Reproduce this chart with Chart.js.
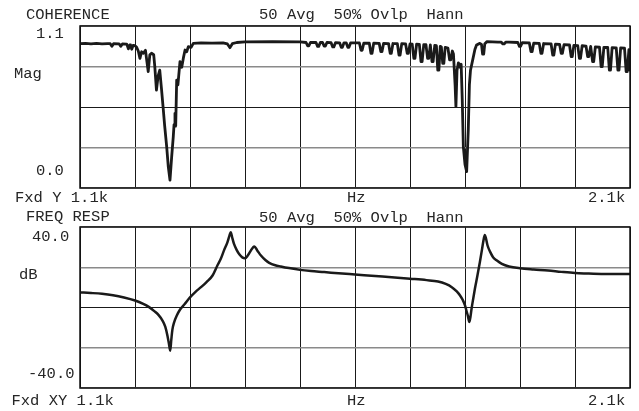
<!DOCTYPE html>
<html><head><meta charset="utf-8">
<script src="https://cdn.jsdelivr.net/npm/chart.js@4.4.1/dist/chart.umd.min.js"></script>
<style>
html,body{margin:0;padding:0;background:#fff;}
#wrap{position:relative;width:639px;height:411px;background:#fff;}
canvas{position:absolute;left:0;top:0;}
</style></head><body>
<div id="wrap"><canvas id="c1" width="639" height="411"></canvas><canvas id="c2" width="639" height="411"></canvas></div>
<script>
// ---- data ----
const freqTicks = [1100,1200,1300,1400,1500,1600,1700,1800,1900,2000,2100];
const cohTicks = [0, 0.275, 0.55, 0.825, 1.1];
const frTicks = [-40, -20, 0, 20, 40];

const cohFreq = [
  1100,1110,1120,1130,1140,1150,1155,1158,1161,1171,1174,1177,1185,1188,1190.5,1192,1194,1196.5,
  1200,1203,1206,1209,1212,1215,1219,1224,1227,1230,1234,1236,1239,1242,1245,1248,1251,1254,1257.6,1260.5,1263.6,1266.7,1269.6,1271,1272.7,1274,1275.8,1278,1281.8,1285,1287.8,1291,1294,1297,1302,1306,
  1320,1340,1360,1368,1372.7,1377,1385,1400,1450,1500,
  1511,1514,1516,1519,
  1529,1532,1534,1537,
  1541,1544,1546,1549,
  1556.5,1559.5,1561.5,1564.5,
  1572,1575,1577,1580,
  1584,1587,1589,1592,
  1608,1611,1613,1616,
  1626,1629,1631,1634,
  1644,1647,1649,1652,
  1661,1664,1666,1669,
  1677,1680,1682,1685,
  1692,1695,1697,1700,
  1704,1707,1709,1712,
  1717,1720,1722,1725,
  1729,1732,1734,1737,
  1740,1742,1745,
  1748,1750.5,1752.5,1755,
  1757,1759.5,1761.5,1764,
  1769,1772,1774,1777,
  1779,1782,1783.5,1785.5,1788,1791,1793,1795,1797,1800,1803,1806,1808,1810,1814,1818,1821,1827,1830,1832,1834,1836,1840,1860,
  1866,1869,1871,1874,1880,
  1896,1899,1901,1904,
  1917,1920,1922,1925,
  1935,1938,1940,1943,
  1956.5,1959.5,1961.5,1964.5,
  1972,1975,1977,1980,
  1990,1993,1995,1998,
  2005,2008,2010,2013,
  2020,2023,2025,2028.5,
  2032,2034,2037,
  2044.5,2047.5,2049.5,2052.5,
  2059.5,2062.5,2064.5,2067.5,
  2075,2078,2080,2083,
  2090,2093,2095,2098,2100];
const cohMag = [
  0.980,0.982,0.979,0.982,0.979,0.981,0.980,0.962,0.980,0.979,0.962,0.978,0.977,0.945,0.972,0.971,0.942,0.968,
  0.966,0.955,0.930,0.880,0.925,0.915,0.935,0.790,0.905,0.915,0.905,0.824,0.665,0.760,0.800,0.680,0.552,0.420,0.281,0.145,0.054,0.213,0.349,0.430,0.507,0.420,0.733,0.700,0.858,0.820,0.880,0.937,0.925,0.960,0.955,0.982,
  0.985,0.984,0.986,0.978,0.953,0.980,0.988,0.992,0.993,0.992,
  0.988,0.965,0.965,0.988,
  0.988,0.962,0.962,0.988,
  0.988,0.963,0.963,0.988,
  0.987,0.958,0.958,0.987,
  0.986,0.955,0.955,0.986,
  0.986,0.955,0.955,0.985,
  0.985,0.935,0.935,0.984,
  0.983,0.915,0.915,0.983,
  0.982,0.926,0.926,0.982,
  0.981,0.914,0.914,0.981,
  0.980,0.903,0.903,0.980,
  0.978,0.914,0.914,0.978,
  0.977,0.880,0.880,0.976,
  0.975,0.858,0.858,0.974,
  0.973,0.880,0.880,0.971,
  0.858,0.858,0.968,
  0.966,0.800,0.800,0.962,
  0.958,0.847,0.847,0.955,
  0.950,0.870,0.870,0.930,
  0.910,0.700,0.552,0.800,0.850,0.820,0.840,0.600,0.280,0.160,0.111,0.400,0.700,0.800,0.870,0.940,0.971,0.982,0.975,0.910,0.910,0.980,0.994,0.991,
  0.990,0.978,0.978,0.990,0.991,
  0.988,0.962,0.962,0.987,
  0.985,0.926,0.926,0.984,
  0.982,0.914,0.914,0.981,
  0.979,0.903,0.903,0.977,
  0.975,0.914,0.914,0.973,
  0.971,0.892,0.892,0.969,
  0.967,0.880,0.880,0.966,
  0.964,0.892,0.892,0.961,
  0.858,0.858,0.958,
  0.957,0.824,0.824,0.955,
  0.954,0.801,0.801,0.953,
  0.952,0.801,0.801,0.951,
  0.950,0.790,0.790,0.940,0.800];

const frFreq = [1100,1120,1140,1160,1180,1200,1215,1225,1235,1243,1250,1255,1259,1262,1264,1266,1268,1271,1276,1282,1290,1300,1310,1320,1330,1341,1350,1356,1362,1368,1372,1374,1377,1380,1385,1390,1395,1400,1405,1410,1415,1417,1422,1429,1437,1444,1455,1465,1480,1500,1520,1544,1570,1600,1650,1700,1730,1751,1765,1776,1785,1791,1796,1800,1803,1805,1808,1810,1812,1815,1818,1822,1827,1831,1833,1836,1838,1841,1846,1851,1858,1867,1880,1900,1925,1951,1975,2000,2025,2048,2075,2100];
const frDb = [7.5,7.2,6.8,6.1,5.0,3.5,1.8,0.3,-1.8,-3.8,-6.5,-9.5,-14,-18.5,-21.5,-16,-11,-7.5,-4,-1,1.6,5.0,7.8,10.1,12.6,15.9,21.0,24.2,28.5,32.4,36.0,37.4,34.5,31.6,28.5,26.3,24.9,24.5,25.8,28.0,30.0,30.3,28.5,25.8,23.6,22.2,21.0,20.4,19.6,18.7,18.1,17.6,17.0,16.4,15.4,14.3,13.6,12.9,11.7,10.1,8.0,6.0,3.7,1.1,-2.0,-3.9,-7.2,-4.5,-0.5,4.5,9.3,15.0,22.5,29.0,32.4,36.0,34.5,30.8,27.5,25.0,23.3,21.7,20.4,19.5,18.9,18.4,17.7,17.1,16.9,16.7,16.6,16.6];

const topLabels = ["COHERENCE","50 Avg  50% Ovlp  Hann","1.1","Mag","0.0","Fxd Y 1.1k","Hz","2.1k"];
const botLabels = ["FREQ RESP","50 Avg  50% Ovlp  Hann","40.0","dB","-40.0","Fxd XY 1.1k","Hz","2.1k"];

// ---- layout (positions, not data) ----
const topLabelPos = [[26,19],[259,19],[36,37.5],[14,78],[36,175],[15,202],[347,202],[588,202]];
const botLabelPos = [[26,221],[259,221.5],[32,241],[19,279],[28,378],[11.5,405],[347,404.5],[588,404.5]];
const FONT = "15.5px 'Liberation Mono', 'DejaVu Sans Mono', monospace";

function makeChart(id, xs, ys, yMin, yMax, yTicks, midVal, pad, labels, labelPos, tension, lw) {
  const framePlugin = {
    id: 'frame'+id,
    afterDraw(chart) {
      const {ctx, chartArea: a} = chart;
      ctx.save();
      ctx.strokeStyle = '#111';
      ctx.lineWidth = 1.5;
      ctx.strokeRect(a.left, a.top, a.right - a.left, a.bottom - a.top);
      ctx.fillStyle = '#262626';
      ctx.font = FONT;
      ctx.textBaseline = 'alphabetic';
      ctx.textAlign = 'left';
      labels.forEach((t, i) => ctx.fillText(t, labelPos[i][0], labelPos[i][1]));
      ctx.restore();
    }
  };
  return new Chart(document.getElementById(id), {
    type: 'line',
    data: { datasets: [{
      data: xs.map((x, i) => ({x, y: ys[i]})),
      borderColor: '#1a1a1a', borderWidth: lw, pointRadius: 0,
      borderJoinStyle: 'round', borderCapStyle: 'round',
      tension: tension, cubicInterpolationMode: tension ? 'monotone' : 'default',
      fill: false
    }]},
    options: {
      responsive: false, animation: false, events: [],
      layout: { padding: pad },
      plugins: { legend: {display: false}, tooltip: {enabled: false} },
      scales: {
        x: {
          type: 'linear', min: 1100, max: 2100,
          afterBuildTicks: s => { s.ticks = freqTicks.map(v => ({value: v})); },
          afterFit: s => { s.height = 0; },
          ticks: {display: false},
          grid: {color: '#1a1a1a', lineWidth: 1, drawTicks: false},
          border: {display: false}
        },
        y: {
          type: 'linear', min: yMin, max: yMax,
          afterBuildTicks: s => { s.ticks = yTicks.map(v => ({value: v})); },
          afterFit: s => { s.width = 0; },
          ticks: {display: false},
          grid: {
            color: c => (c.tick && c.tick.value === midVal) ? '#1a1a1a' : '#8a8a8a',
            lineWidth: c => (c.tick && c.tick.value === midVal) ? 1 : 1.5,
            drawTicks: false
          },
          border: {display: false}
        }
      }
    },
    plugins: [framePlugin]
  });
}

makeChart('c1', cohFreq, cohMag, 0, 1.1, cohTicks, 0.55, {left: 80, top: 26, right: 9, bottom: 223}, topLabels, topLabelPos, 0, 2.8);
makeChart('c2', frFreq, frDb, -40, 40, frTicks, 0, {left: 80, top: 227, right: 9, bottom: 23}, botLabels, botLabelPos, 0.4, 2.5);
</script>
</body></html>
